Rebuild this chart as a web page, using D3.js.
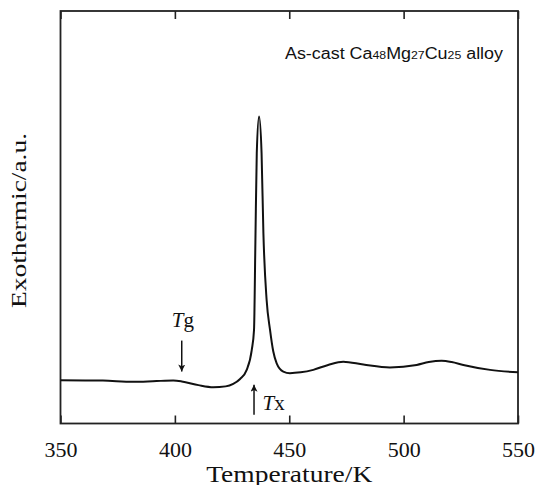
<!DOCTYPE html>
<html>
<head>
<meta charset="utf-8">
<script src="https://cdn.jsdelivr.net/npm/d3@7"></script>
<style>
  html, body { margin: 0; padding: 0; background: #fff; }
  svg { display: block; }
</style>
</head>
<body>
<div id="viz"></div>
<script>
// DSC trace (temperature in K, signal in arbitrary units 0-100)
var temps = [350, 368.5, 381.8, 392, 399.3, 403, 410.3, 416.8, 422.2, 425.5, 428.5, 431.4,
  433.6, 434.6, 435.2, 435.8, 436.8, 437.9, 438.7, 440.1, 441.6, 443, 444.5, 447.4, 450.3,
  455, 460.5, 467, 473.6, 482.4, 494, 505.7, 511, 516.6, 521, 526.1, 537.8, 550];
var signal = [10.5, 10.4, 10.1, 10.3, 10.4, 10.2, 9.3, 8.8, 9.0, 9.6, 10.8, 13,
  17.8, 22.7, 44, 65.5, 74.4, 65.5, 46.1, 30, 22.7, 17.5, 14.6, 12.6, 12.2,
  12.4, 13, 14.2, 15, 14.3, 13.6, 14.2, 14.9, 15.2, 14.9, 14.2, 13, 12.4];
var xTicks = [350, 400, 450, 500, 550];

// marker annotations: [temperature, tail, tip] in signal units
var tgArrow = [403, 20.1, 12.6];
var txArrow = [434.6, 2.1, 9.4];

var width = 537, height = 485;
var margin = {top: 11, right: 19, bottom: 61.5, left: 60.5};
var serif = '"Liberation Serif", "DejaVu Serif", serif';

var svg = d3.select('#viz').append('svg')
  .attr('width', width).attr('height', height);

var x = d3.scaleLinear().domain([350, 550]).range([margin.left, width - margin.right]);
var y = d3.scaleLinear().domain([0, 100]).range([height - margin.bottom, margin.top]);

var defs = svg.append('defs');
defs.append('marker')
  .attr('id', 'head')
  .attr('viewBox', '0 0 10 10')
  .attr('refX', 10).attr('refY', 5)
  .attr('markerWidth', 11).attr('markerHeight', 7)
  .attr('markerUnits', 'userSpaceOnUse')
  .attr('orient', 'auto')
  .append('path').attr('d', 'M0,0 L10,5 L0,10 L2.5,5 Z').attr('fill', '#111');

// frame
svg.append('rect')
  .attr('x', x(350)).attr('y', y(100))
  .attr('width', x(550) - x(350)).attr('height', y(0) - y(100))
  .attr('fill', 'none').attr('stroke', '#222').attr('stroke-width', 1.8);

// bottom axis (inward ticks) and mirrored ticks on top
var bottomAxis = svg.append('g')
  .attr('transform', 'translate(0,' + y(0) + ')')
  .call(d3.axisBottom(x).tickValues(xTicks).tickSizeInner(-8).tickSizeOuter(0).tickPadding(18));
var topAxis = svg.append('g')
  .attr('transform', 'translate(0,' + y(100) + ')')
  .call(d3.axisTop(x).tickValues(xTicks).tickSizeInner(-8).tickSizeOuter(0).tickFormat(''));

[bottomAxis, topAxis].forEach(function(g) {
  g.select('.domain').remove();
  g.selectAll('line').attr('stroke', '#222').attr('stroke-width', 1.6);
});
bottomAxis.selectAll('text')
  .attr('fill', '#111')
  .style('font-family', serif).style('font-size', '22px')
  .attr('textLength', 33).attr('lengthAdjust', 'spacingAndGlyphs');

// the trace
var line = d3.line()
  .x(function(d) { return x(d[0]); })
  .y(function(d) { return y(d[1]); })
  .curve(d3.curveMonotoneX);

svg.append('path')
  .datum(d3.zip(temps, signal))
  .attr('d', line)
  .attr('fill', 'none').attr('stroke', '#111').attr('stroke-width', 2);

// arrows
[tgArrow, txArrow].forEach(function(a) {
  svg.append('line')
    .attr('x1', x(a[0])).attr('x2', x(a[0]))
    .attr('y1', y(a[1])).attr('y2', y(a[2]))
    .attr('stroke', '#111').attr('stroke-width', 1.5)
    .attr('marker-end', 'url(#head)');
});

function tLabel(tx, ty, sub) {
  var t = svg.append('text')
    .attr('x', tx).attr('y', ty)
    .attr('fill', '#111')
    .style('font-family', serif).style('font-size', '21px');
  t.append('tspan').style('font-style', 'italic').text('T');
  t.append('tspan').text(sub);
}
tLabel(x(tgArrow[0]) - 10, y(23.4), 'g');
tLabel(x(txArrow[0]) + 8.5, y(3.2), 'x');

// sample annotation
var note = svg.append('text')
  .attr('x', 285).attr('y', 59.3)
  .attr('fill', '#111')
  .attr('textLength', 218).attr('lengthAdjust', 'spacingAndGlyphs')
  .style('font-family', '"Liberation Sans", Arial, sans-serif').style('font-size', '16px');
var parts = [['As-cast Ca', 16], ['48', 11], ['Mg', 16], ['27', 11], ['Cu', 16], ['25', 11], [' alloy', 16]];
parts.forEach(function(p) {
  note.append('tspan').style('font-size', p[1] + 'px').text(p[0]);
});

// axis titles
svg.append('text')
  .attr('x', x(450)).attr('y', 481.5)
  .attr('text-anchor', 'middle').attr('fill', '#111')
  .attr('textLength', 166).attr('lengthAdjust', 'spacingAndGlyphs')
  .style('font-family', serif).style('font-size', '23px')
  .text('Temperature/K');

svg.append('text')
  .attr('transform', 'translate(26,220.5) rotate(-90)')
  .attr('text-anchor', 'middle').attr('fill', '#111')
  .attr('textLength', 175).attr('lengthAdjust', 'spacingAndGlyphs')
  .style('font-family', serif).style('font-size', '21px')
  .text('Exothermic/a.u.');
</script>
</body>
</html>
